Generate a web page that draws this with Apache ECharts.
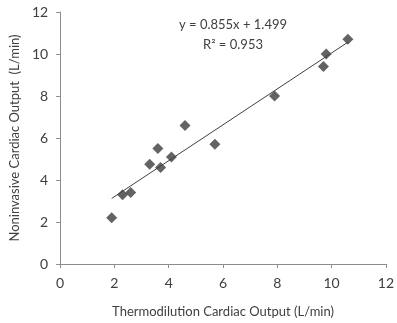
<!DOCTYPE html>
<html>
<head>
<meta charset="utf-8">
<script src="https://cdn.jsdelivr.net/npm/echarts@6/dist/echarts.min.js"></script>
<style>
  html, body { margin: 0; padding: 0; background: #fff; }
  #chart { width: 397px; height: 323px; }
</style>
</head>
<body>
<div id="chart"></div>
<script>
// measured points (thermodilution vs noninvasive)
var thermoCO = [1.9, 2.3, 2.6, 3.3, 3.7, 3.6, 4.1, 4.6, 5.7, 7.9, 9.7, 9.8, 10.6];
var noninvCO = [2.2, 3.3, 3.4, 4.75, 4.6, 5.5, 5.1, 6.6, 5.7, 8.0, 9.4, 10.0, 10.7];
var slope = 0.855, intercept = 1.499;
var trendX = [1.9, 10.6];
var axisTicks = [0, 2, 4, 6, 8, 10, 12];

var points = thermoCO.map(function (x, i) { return [x, noninvCO[i]]; });
var trend = trendX.map(function (x) { return [x, slope * x + intercept]; });

var chart = echarts.init(document.getElementById('chart'));
var axisCommon = {
  type: 'value',
  min: axisTicks[0],
  max: axisTicks[axisTicks.length - 1],
  interval: 2,
  splitLine: { show: false },
  axisLine: { show: true, lineStyle: { color: '#8c8c8c', width: 1 } },
  axisTick: { show: true, length: 4, lineStyle: { color: '#8c8c8c' } },
  axisLabel: { color: '#404040', fontSize: 14, fontFamily: 'Lato', margin: 12 },
  nameLocation: 'middle',
  nameTextStyle: { color: '#404040', fontSize: 13, fontFamily: 'Lato' }
};
chart.setOption({
  animation: false,
  grid: { left: 58, right: 5, top: 12, bottom: 56 },
  xAxis: Object.assign({}, axisCommon, {
    name: 'Thermodilution Cardiac Output (L/min)',
    nameGap: 41
  }),
  yAxis: Object.assign({}, axisCommon, {
    name: 'Noninvasive Cardiac Output  (L/min)',
    nameGap: 36
  }),
  series: [{
    type: 'line',
    data: trend,
    symbol: 'none',
    lineStyle: { color: '#404040', width: 1 },
    silent: true
  }, {
    type: 'scatter',
    data: points,
    symbol: 'diamond',
    symbolSize: 11,
    itemStyle: { color: '#3c3c3c' }
  }],
  graphic: [{
    type: 'text',
    x: 233, y: 25,
    style: { text: 'y = 0.855x + 1.499', fill: '#404040', font: '13px "Liberation Sans Narrow", Lato', textAlign: 'center', textVerticalAlign: 'middle' }
  }, {
    type: 'text',
    x: 233, y: 45,
    style: { text: 'R² = 0.953', fill: '#404040', font: '13px "Liberation Sans Narrow", Lato', textAlign: 'center', textVerticalAlign: 'middle' }
  }]
});
</script>
</body>
</html>
